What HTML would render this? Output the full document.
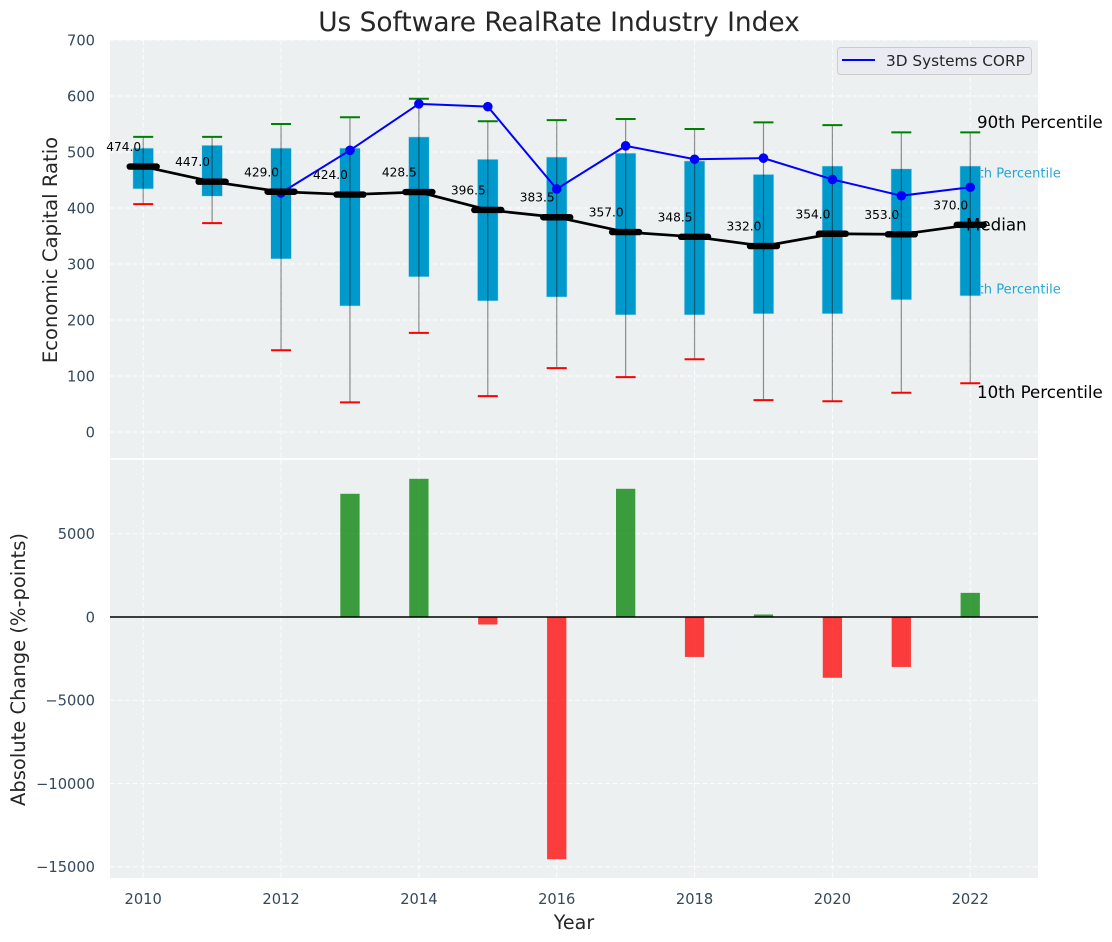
<!DOCTYPE html>
<html lang="en">
<head>
<meta charset="utf-8">
<title>Us Software RealRate Industry Index</title>
<style>
html,body{margin:0;padding:0;background:#fff;}
svg{display:block;font-family:"DejaVu Sans","Liberation Sans",sans-serif;}
</style>
</head>
<body>
<svg id="chart" xmlns="http://www.w3.org/2000/svg" width="1112" height="942" viewBox="0 0 1112 942">
  <rect x="110" y="40" width="928" height="418" fill="#ecf0f1"/>
  <rect x="110" y="460" width="928" height="418" fill="#ecf0f1"/>
  <g id="grid"></g>
  <g id="topMarks"></g>
  <g id="bottomMarks"></g>
  <g id="axisText"></g>
  <text x="559" y="31" text-anchor="middle" font-size="26.4" fill="#262626">Us Software RealRate Industry Index</text>
  <text x="574" y="929" text-anchor="middle" font-size="19.1" fill="#262626">Year</text>
  <text transform="translate(57,250) rotate(-90)" text-anchor="middle" font-size="19.6" fill="#262626">Economic Capital Ratio</text>
  <text transform="translate(25,669.5) rotate(-90)" text-anchor="middle" font-size="19.5" fill="#262626">Absolute Change (%-points)</text>
  <g>
    <rect x="837.5" y="47.5" width="194" height="27" rx="3" fill="#eaeaf2" stroke="#cccccc" stroke-width="1"/>
    <line x1="842" x2="875" y1="60" y2="60" stroke="#0000ff" stroke-width="2"/>
    <text x="886" y="66" font-size="15.3" fill="#262626">3D Systems CORP</text>
  </g>
</svg>
<script>
const years = [2010,2011,2012,2013,2014,2015,2016,2017,2018,2019,2020,2021,2022];
const p90 = [527,527,550,562,595,555,557,559,541,553,548,535,535];
const p75 = [507,512,507,507,527,487,491,498,484,460,475,470,475];
const medians = [474,447,429,424,428.5,396.5,383.5,357,348.5,332,354,353,370];
const p25 = [434,421,309,225,277,234,241,209,209,211,211,236,243];
const p10 = [407,373,146,53,177,64,114,98,130,57,55,70,87];
const companyYears = [2012,2013,2014,2015,2016,2017,2018,2019,2020,2021,2022];
const companyValues = [427,503,586,581,434,511,487,489,451,422,437];
const changeYears = [2013,2014,2015,2016,2017,2018,2019,2020,2021,2022];
const changeValues = [7400,8300,-450,-14550,7700,-2400,150,-3650,-3000,1450];
const xTicks = [2010,2012,2014,2016,2018,2020,2022];
const topYTicks = [0,100,200,300,400,500,600,700];
const bottomYTicks = [5000,0,-5000,-10000,-15000];

const NS = 'http://www.w3.org/2000/svg';
const x = v => 143.2 + (v - 2010) * 68.92;
const yTop = v => 432 - v * 0.56;
const yBot = v => 617 - v * 0.01665;

function make(parent, tag, attrs, text) {
  const el = document.createElementNS(NS, tag);
  for (const k in attrs) el.setAttribute(k, attrs[k]);
  if (text !== undefined) el.textContent = text;
  parent.appendChild(el);
  return el;
}
const grid = document.getElementById('grid');
const topMarks = document.getElementById('topMarks');
const bottomMarks = document.getElementById('bottomMarks');
const axisText = document.getElementById('axisText');
const dash = {stroke:'#ffffff','stroke-width':1,'stroke-dasharray':'5 2.5','stroke-opacity':0.85};

xTicks.forEach(t => {
  let el = make(grid,'line',Object.assign({x1:x(t),x2:x(t),y1:40,y2:458},dash));
  
  
  el = make(grid,'line',Object.assign({x1:x(t),x2:x(t),y1:460,y2:878},dash));
  
  
  el = make(axisText,'text',{x:x(t),y:904,'text-anchor':'middle','font-size':14.67,fill:'#34495e'},String(t));
  
  
});
topYTicks.forEach(t => {
  let el = make(grid,'line',Object.assign({x1:110,x2:1038,y1:yTop(t),y2:yTop(t)},dash));
  
  
  el = make(axisText,'text',{x:95,y:yTop(t)+5.3,'text-anchor':'end','font-size':14.67,fill:'#34495e'},String(t));
  
  
});
bottomYTicks.forEach(t => {
  let el = make(grid,'line',Object.assign({x1:110,x2:1038,y1:yBot(t),y2:yBot(t)},dash));
  
  
  el = make(axisText,'text',{x:95,y:yBot(t)+5.3,'text-anchor':'end','font-size':14.67,fill:'#34495e'},String(t).replace('-','\u2212'));
  
  
});

/* percentile captions sit behind the boxes */
let cap = make(topMarks,'text',{x:962,y:177.5,'font-size':13.1,fill:'#0099cc','fill-opacity':0.85},'75th Percentile');


cap = make(topMarks,'text',{x:962,y:293.5,'font-size':13.1,fill:'#0099cc','fill-opacity':0.85},'25th Percentile');



const halfBox = 0.15 * 68.92;
const halfCap = 10;
years.forEach((yr,i) => {
  const cx = x(yr);
  let el = make(topMarks,'rect',{x:cx-halfBox,y:yTop(p75[i]),width:halfBox*2,height:yTop(p25[i])-yTop(p75[i]),fill:'#0099cc',stroke:'#bfe0ec','stroke-width':0.6});
  
  
  el = make(topMarks,'line',{x1:cx,x2:cx,y1:yTop(p90[i]),y2:yTop(p10[i]),stroke:'#000000','stroke-opacity':0.42,'stroke-width':1.2});
  
  
  el = make(topMarks,'line',{x1:cx-halfCap,x2:cx+halfCap,y1:yTop(p90[i]),y2:yTop(p90[i]),stroke:'#008000','stroke-width':2});
  
  
  el = make(topMarks,'line',{x1:cx-halfCap,x2:cx+halfCap,y1:yTop(p10[i]),y2:yTop(p10[i]),stroke:'#ff0000','stroke-width':2});
  
  
});

const companyLine = make(topMarks,'polyline',{points:companyYears.map((yr,i)=>x(yr)+','+yTop(companyValues[i])).join(' '),fill:'none',stroke:'#0000ff','stroke-width':2});


companyYears.forEach((yr,i) => {
  const el = make(topMarks,'circle',{cx:x(yr),cy:yTop(companyValues[i]),r:4.8,fill:'#0000ff'});
  
  
});

const medianLine = make(topMarks,'polyline',{points:years.map((yr,i)=>x(yr)+','+yTop(medians[i])).join(' '),fill:'none',stroke:'#000000','stroke-width':2.7});


years.forEach((yr,i) => {
  const cx = x(yr), cy = yTop(medians[i]);
  let el = make(topMarks,'line',{x1:cx-13.5,x2:cx+13.5,y1:cy,y2:cy,stroke:'#000000','stroke-width':6.4,'stroke-linecap':'round'});
  
  
  el = make(topMarks,'text',{x:cx-19.5,y:cy-15.5,'text-anchor':'middle','font-size':12.2,fill:'#000000'},medians[i].toFixed(1));
  
  
});

cap = make(topMarks,'text',{x:977,y:128,'font-size':16.67,fill:'#000000'},'90th Percentile');


cap = make(topMarks,'text',{x:966,y:230.5,'font-size':16.67,fill:'#000000'},'Median');


cap = make(topMarks,'text',{x:977,y:398,'font-size':16.67,fill:'#000000'},'10th Percentile');



const halfBar = 0.14 * 68.92;
changeYears.forEach((yr,i) => {
  const v = changeValues[i];
  const top = Math.min(yBot(v), yBot(0));
  const el = make(bottomMarks,'rect',{x:x(yr)-halfBar,y:top,width:halfBar*2,height:Math.abs(yBot(v)-yBot(0)),fill:v>=0?'#008000':'#ff0000','fill-opacity':0.75});
  
  
});
const zero = make(bottomMarks,'line',{x1:110,x2:1038,y1:yBot(0),y2:yBot(0),stroke:'#000000','stroke-width':1.5});


</script>
</body>
</html>
